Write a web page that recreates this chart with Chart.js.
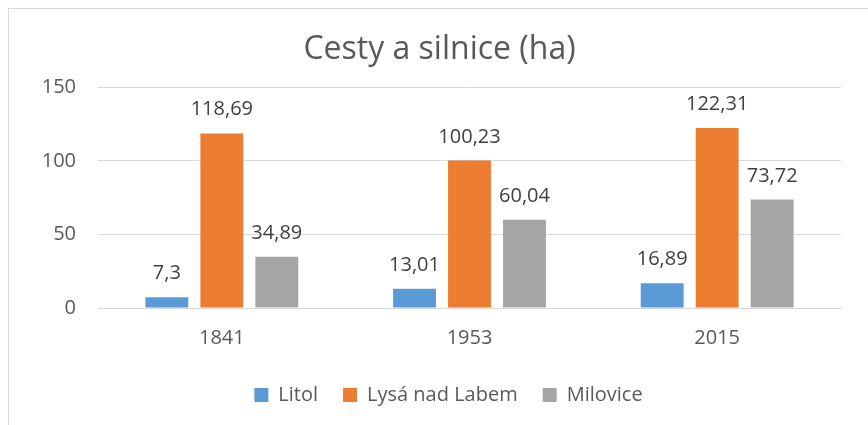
<!DOCTYPE html>
<html>
<head>
<meta charset="utf-8">
<script src="https://cdn.jsdelivr.net/npm/chart.js@4"></script>
<style>
  body { margin: 0; background: #fff; }
  #wrap { position: relative; width: 868px; height: 425px; }
  #frame { position: absolute; left: 8px; top: 8px; right: 0; bottom: 0;
           border-top: 1px solid #d9d9d9; border-left: 1px solid #d9d9d9; }
  canvas { position: absolute; left: 0; top: 0; }
</style>
</head>
<body>
<div id="wrap">
  <div id="frame"></div>
  <canvas id="chart" width="868" height="425"></canvas>
</div>
<script>
const years = ['1841', '1953', '2015'];
const litol = [7.3, 13.01, 16.89];
const lysa = [118.69, 100.23, 122.31];
const milovice = [34.89, 60.04, 73.72];
const yTicks = [0, 50, 100, 150];

const FONT = 'Open Sans, sans-serif';

// draws the value above every bar, with a decimal comma
const valueLabels = {
  id: 'valueLabels',
  afterDatasetsDraw(chart) {
    const ctx = chart.ctx;
    ctx.save();
    ctx.font = '20px ' + FONT;
    ctx.fillStyle = '#404040';
    ctx.textAlign = 'center';
    ctx.textBaseline = 'alphabetic';
    chart.data.datasets.forEach((ds, i) => {
      chart.getDatasetMeta(i).data.forEach((bar, j) => {
        const txt = String(ds.data[j]).replace('.', ',');
        ctx.fillText(txt, bar.x, bar.y - 18);
      });
    });
    ctx.restore();
  }
};

// title and legend sit a bit right of the plot centre in the original
const nudge = {
  id: 'nudge',
  afterLayout(chart) {
    chart.titleBlock.left += 15;
    chart.titleBlock.right += 15;
    chart.legend.left += 24;
    chart.legend.right += 24;
  }
};

new Chart(document.getElementById('chart'), {
  type: 'bar',
  data: {
    labels: years,
    datasets: [
      { label: 'Litol', data: litol, backgroundColor: '#5b9bd5' },
      { label: 'Lysá nad Labem', data: lysa, backgroundColor: '#ed7d31' },
      { label: 'Milovice', data: milovice, backgroundColor: '#a5a5a5' }
    ]
  },
  options: {
    responsive: false,
    animation: false,
    layout: { padding: { left: 8, right: 27, top: 15, bottom: 10 } },
    datasets: {
      bar: { categoryPercentage: 0.666, barPercentage: 0.78 }
    },
    plugins: {
      title: {
        display: true,
        text: 'Cesty a silnice (ha)',
        color: '#595959',
        font: { family: FONT, size: 32, weight: 'normal' },
        padding: { top: 16, bottom: 18 }
      },
      legend: {
        position: 'bottom',
        labels: {
          color: '#595959',
          font: { family: FONT, size: 20 },
          boxWidth: 14,
          boxHeight: 14,
          padding: 25
        }
      },
      tooltip: { enabled: false }
    },
    scales: {
      x: {
        grid: { display: false },
        border: { color: '#d9d9d9' },
        ticks: { color: '#595959', font: { family: FONT, size: 20 }, padding: 10 }
      },
      y: {
        min: 0,
        max: 150,
        afterBuildTicks: (s) => { s.ticks = yTicks.map(v => ({ value: v })); },
        afterFit: (s) => { s.width = 90; },
        grid: { color: '#d9d9d9', drawTicks: false },
        border: { display: false },
        ticks: { color: '#595959', font: { family: FONT, size: 20 }, padding: 22 }
      }
    }
  },
  plugins: [valueLabels, nudge]
});
</script>
</body>
</html>
